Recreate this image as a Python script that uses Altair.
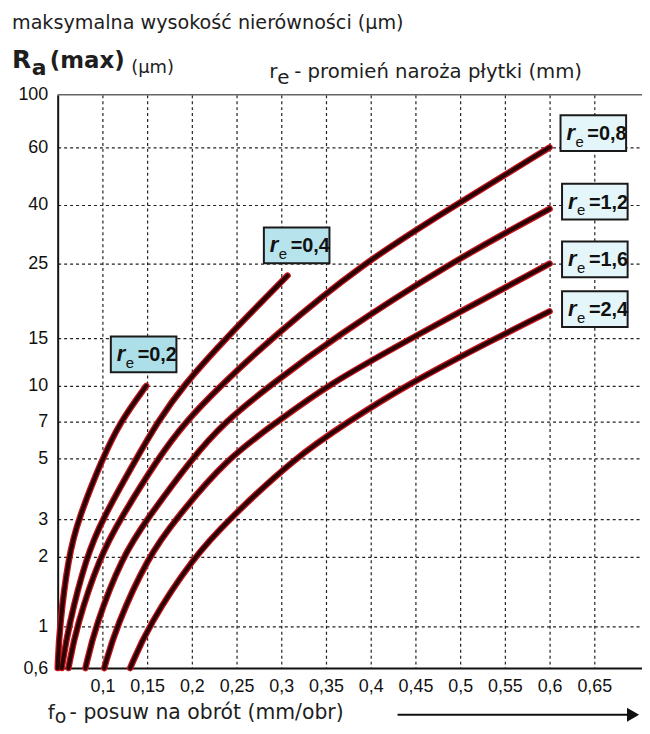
import altair as alt
import pandas as pd

# ---------------- data ----------------
# y-axis ticks as printed on the chart (irregular spacing)
y_ticks = [0.6, 1, 2, 3, 5, 7, 10, 15, 25, 40, 60, 100]
y_tick_pos = [577, 535, 465, 427, 366, 329, 293, 245, 170, 111, 53, 0]
x_ticks = [0.1, 0.15, 0.2, 0.25, 0.3, 0.35, 0.4, 0.45, 0.5, 0.55, 0.6, 0.65]

# curves: feed f (mm/obr) -> Ra max (um), per nose radius r_e
f_02 = [0.050, 0.052, 0.062, 0.073, 0.100, 0.120, 0.149]
ra_02 = [0.6, 1, 2, 3, 5, 7, 10]
f_04 = [0.0545, 0.062, 0.082, 0.100, 0.138, 0.162, 0.190, 0.238, 0.307]
ra_04 = [0.6, 1, 2, 3, 5, 7, 10, 15, 23.4]
f_08 = [0.062, 0.071, 0.097, 0.120, 0.162, 0.193, 0.232, 0.289, 0.390, 0.495, 0.600]
ra_08 = [0.6, 1, 2, 3, 5, 7, 10, 15, 25, 40, 60]
f_12 = [0.081, 0.092, 0.122, 0.150, 0.200, 0.237, 0.287, 0.358, 0.487, 0.600]
ra_12 = [0.6, 1, 2, 3, 5, 7, 10, 15, 25, 39]
f_16 = [0.102, 0.1155, 0.151, 0.182, 0.239, 0.296, 0.350, 0.445, 0.600]
ra_16 = [0.6, 1, 2, 3, 5, 7, 10, 15, 25]
f_24 = [0.131, 0.151, 0.202, 0.242, 0.314, 0.375, 0.438, 0.540, 0.600]
ra_24 = [0.6, 1, 2, 3, 5, 7, 10, 15, 18.6]

series = [("0,2", f_02, ra_02), ("0,4", f_04, ra_04), ("0,8", f_08, ra_08),
          ("1,2", f_12, ra_12), ("1,6", f_16, ra_16), ("2,4", f_24, ra_24)]

# label boxes
lab_text = ["=0,2", "=0,4", "=0,8", "=1,2", "=1,6", "=2,4"]
lab_f = [0.1461, 0.3172, 0.6489, 0.6506, 0.6506, 0.6506]
lab_ra = [13.3, 29.7, 70.9, 41.2, 26.1, 18.9]
lab_fill = ["#addfe9", "#b6e3ec", "#e4f6fa", "#e4f6fa", "#e4f6fa", "#e4f6fa"]

rows = []
for r, fs, ras in series:
    for i, (f, ra) in enumerate(zip(fs, ras)):
        rows.append({"r": r, "f": f, "ra": ra, "i": i})
df = pd.DataFrame(rows)
labels = pd.DataFrame({"f": lab_f, "ra": lab_ra, "t": lab_text, "fill": lab_fill})

W, H = 588, 577
XMIN, XMAX = 0.05, 0.05 + 588 / 900
NUMFONT = "Liberation Sans"
TXTFONT = "DejaVu Sans"

xscale = alt.Scale(domain=[XMIN, XMAX], nice=False, zero=False)
yscale = alt.Scale(type="linear", domain=y_ticks, range=y_tick_pos, nice=False, zero=False)

xaxis = alt.Axis(values=x_ticks, title=None, labelExpr="replace(toString(datum.value), '.', ',')",
                 labelFont=NUMFONT, labelFontSize=18, labelColor="#111", labelPadding=10,
                 ticks=False, domainColor="#111", domainWidth=2,
                 grid=True, gridColor="#222", gridDash=[3, 3], gridWidth=1.2)
yaxis = alt.Axis(values=y_ticks, title=None, labelExpr="replace(toString(datum.value), '.', ',')",
                 labelFont=NUMFONT, labelFontSize=18, labelColor="#111", labelPadding=10,
                 ticks=False, domainColor="#111", domainWidth=2,
                 grid=True, gridColor="#222", gridDash=[3, 3], gridWidth=1.2,
                 gridOpacity=alt.condition("datum.value == 100 || datum.value == 0.6",
                                           alt.value(0), alt.value(1)))

base = alt.Chart(df)
under = base.mark_line(color="#c8141a", strokeWidth=6.5, strokeCap="round", interpolate="basis").encode(
    x=alt.X("f:Q", scale=xscale, axis=xaxis),
    y=alt.Y("ra:Q", scale=yscale, axis=yaxis),
    detail="r:N", order="i:Q")
over = base.mark_line(color="#2a0404", strokeWidth=4, strokeCap="round", interpolate="basis").encode(
    x="f:Q", y="ra:Q", detail="r:N", order="i:Q")

top_rule = alt.Chart(pd.DataFrame({"v": [100]})).mark_rule(color="#666", strokeWidth=1.6).encode(
    y=alt.Y("v:Q"))

lb = alt.Chart(labels)
boxes = lb.mark_rect(xOffset=-33, x2Offset=33, yOffset=-18, y2Offset=18,
                     stroke="#1a1a1a", strokeWidth=2).encode(
    x="f:Q", x2="f:Q", y="ra:Q", y2="ra:Q", fill=alt.Color("fill:N", scale=None))
t_r = lb.mark_text(align="left", baseline="alphabetic", dx=-27, dy=7, font=NUMFONT,
                   fontSize=22, fontWeight="bold", fontStyle="italic", color="#111").encode(
    x="f:Q", y="ra:Q", text=alt.value("r"))
t_e = lb.mark_text(align="left", baseline="alphabetic", dx=-18, dy=14, font=NUMFONT,
                   fontSize=15, color="#111").encode(
    x="f:Q", y="ra:Q", text=alt.value("e"))
t_v = lb.mark_text(align="left", baseline="alphabetic", dx=-6, dy=7, font=NUMFONT,
                   fontSize=20, fontWeight="bold", color="#111").encode(
    x="f:Q", y="ra:Q", text="t:N")


def note(txt, x, y, size, weight="normal", font=TXTFONT, color="#1e1e1e"):
    return alt.Chart(pd.DataFrame({"t": [txt]})).mark_text(
        align="left", baseline="alphabetic", fontSize=size, fontWeight=weight,
        font=font, color=color).encode(x=alt.value(x), y=alt.value(y), text="t:N")


notes = [
    note("maksymalna wysokość nierówności (µm)", -46, -66, 19.3),
    note("R", -46, -27, 25, "bold"),
    note("a", -26, -20, 22, "bold"),
    note("(max)", -8, -27, 23, "bold"),
    note("(µm)", 74, -22, 18),
    note("r", 213, -17, 20),
    note("e", 221, -11, 20),
    note("- promień naroża płytki (mm)", 238, -17, 19.8),
    note("f", -10, 628, 20),
    note("o", -3, 632, 19),
    note("- posuw na obrót (mm/obr)", 12, 628, 20.5),
]

arrow_line = alt.Chart(pd.DataFrame({"a": [0]})).mark_rule(color="#111", strokeWidth=2).encode(
    x=alt.value(342), x2=alt.value(576), y=alt.value(624))
arrow_head = alt.Chart(pd.DataFrame({"a": [0]})).mark_point(
    shape="triangle-right", filled=True, size=200, color="#111", opacity=1).encode(
    x=alt.value(579), y=alt.value(624))

chart = alt.layer(under, over, top_rule, boxes, t_r, t_e, t_v, *notes, arrow_line, arrow_head).properties(
    width=W, height=H,
    autosize=alt.AutoSizeParams(type="none"),
    padding={"left": 50, "top": 85, "right": 0, "bottom": 56},
    background="white",
).configure_view(strokeWidth=0)

chart.save("out.html", embed_options={"renderer": "svg", "actions": False})
